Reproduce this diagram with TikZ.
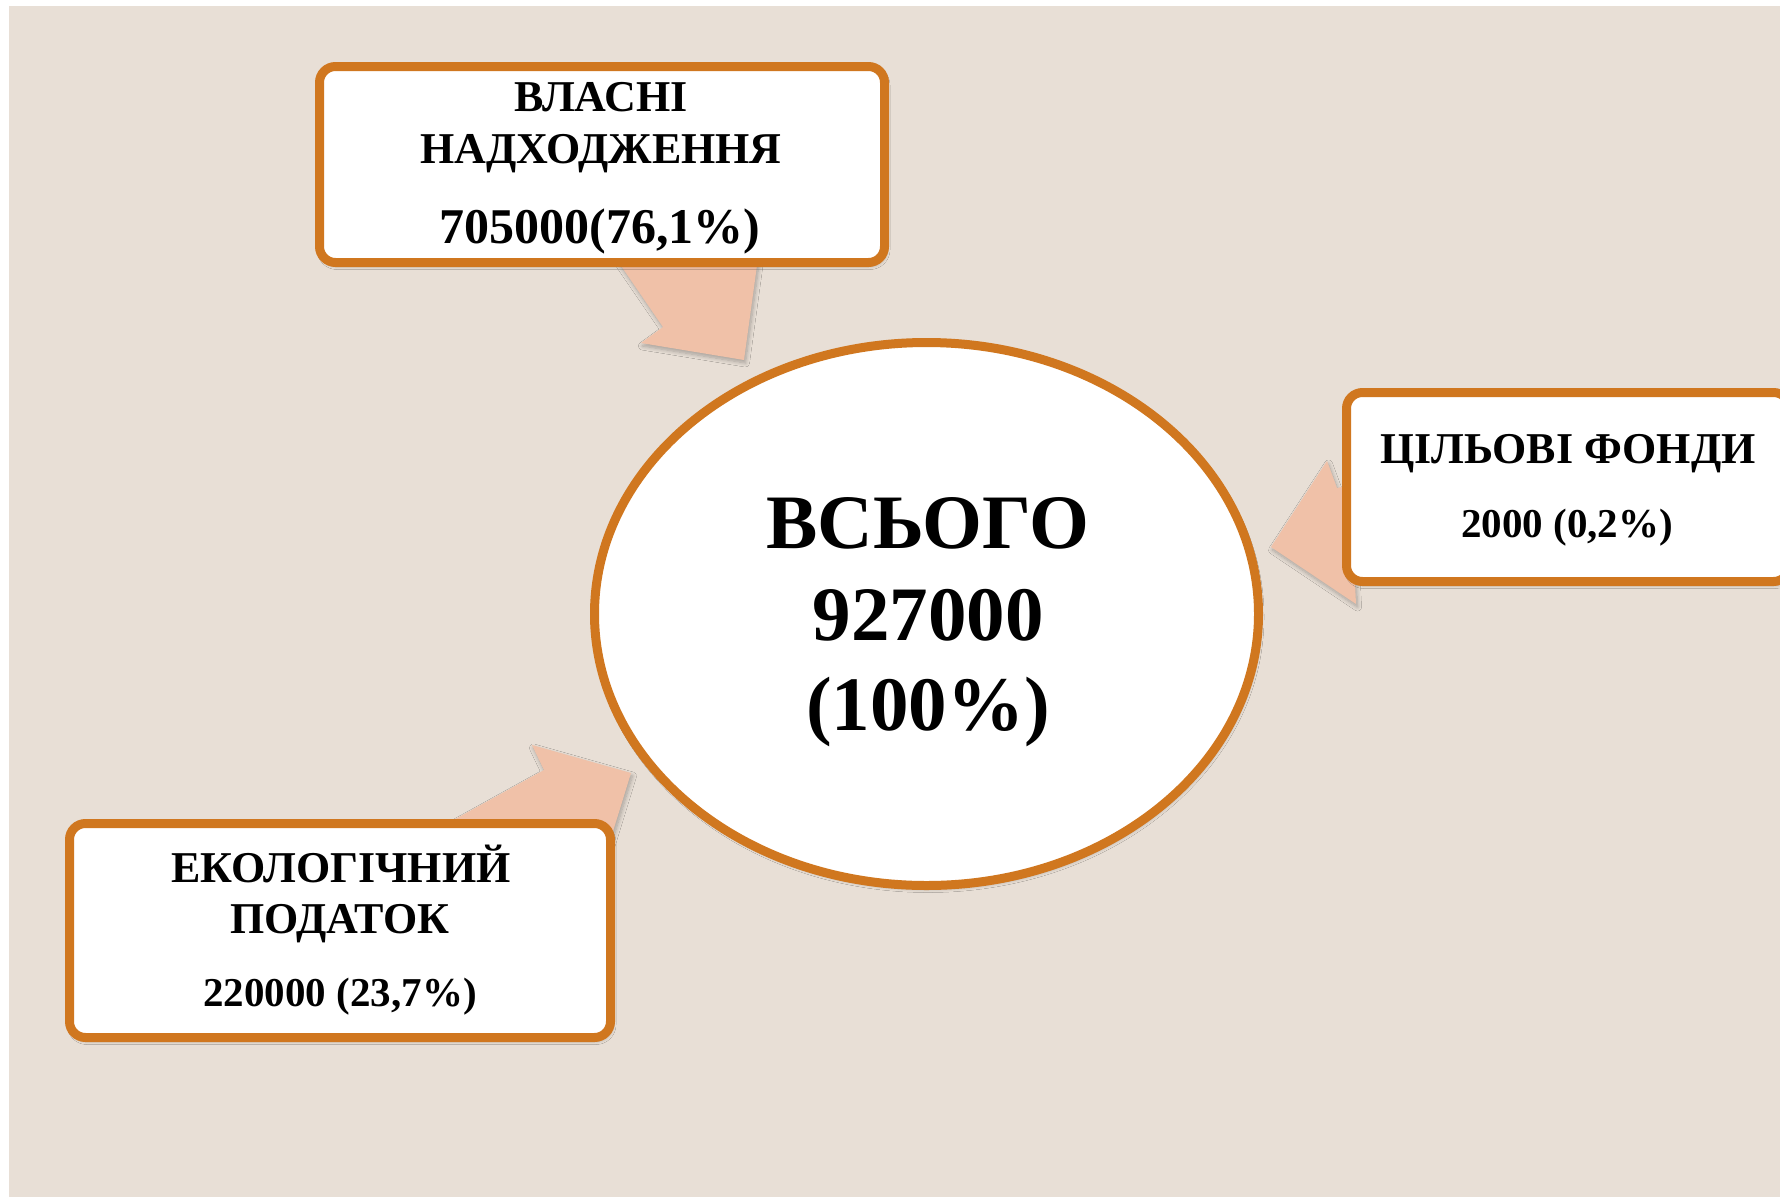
\documentclass[tikz,border=0pt]{standalone}
\usepackage{fontspec}
\setmainfont{Liberation Serif}
\usetikzlibrary{shapes.geometric,shadows.blur}
\definecolor{bgbeige}{HTML}{E8DFD6}
\definecolor{frameorange}{HTML}{D0771F}
\definecolor{arrowpeach}{HTML}{F0C1A8}
\newcommand{\fsz}[1]{\fontsize{#1}{#1}\selectfont\bfseries}
\tikzset{
  softshadow/.style={blur shadow={shadow xshift=1.5pt,shadow yshift=-3pt,shadow blur radius=4pt,shadow blur steps=8,shadow opacity=28}},
  infobox/.style={draw=frameorange,line width=9pt,fill=white,rounded corners=16pt,inner sep=0pt,softshadow},
  totalellipse/.style={ellipse,draw=frameorange,line width=9pt,fill=white,inner sep=0pt,softshadow},
  blockarrow/.style={fill=arrowpeach,softshadow},
  txt/.style={anchor=base,inner sep=0pt,text=black},
}
\begin{document}
\begin{tikzpicture}[x=1pt,y=-1pt]
\useasboundingbox (0,0) rectangle (1780,1197);
\fill[white] (0,0) rectangle (1780,1197);
\fill[bgbeige] (9,6) rectangle (1780,1197);

% arrow coordinates
\coordinate (ta1) at (576,200);
\coordinate (ta2) at (663,327);
\coordinate (ta3) at (641,343);
\coordinate (ta4) at (744,360);
\coordinate (ta5) at (766,200);

\coordinate (ra1) at (1420,471);
\coordinate (ra2) at (1337,488);
\coordinate (ra3) at (1327,461);
\coordinate (ra4) at (1271,547);
\coordinate (ra5) at (1356,604);
\coordinate (ra6) at (1354.6,575);
\coordinate (ra7) at (1420,562);

\coordinate (la1) at (345,880);
\coordinate (la2) at (544,770);
\coordinate (la3) at (532,745);
\coordinate (la4) at (631,773);
\coordinate (la5) at (598,880);

\fill[blockarrow] (ta1) -- (ta2) -- (ta3) -- (ta4) -- (ta5) -- cycle;
\fill[blockarrow] (ra1) -- (ra2) -- (ra3) -- (ra4) -- (ra5) -- (ra6) -- (ra7) -- cycle;
\fill[blockarrow] (la1) -- (la2) -- (la3) -- (la4) -- (la5) -- cycle;

% boxes
\node[infobox,minimum width=565pt,minimum height=196pt] (own) at (602,164.5) {};
\node[infobox,minimum width=443pt,minimum height=189pt] (funds) at (1568,487) {};
\node[infobox,minimum width=541pt,minimum height=214pt] (eco) at (340,930.5) {};
\node[totalellipse,minimum width=664pt,minimum height=543pt] (total) at (926.5,614) {};

% texts
\node[txt] (own1) at (601,111) {\fsz{44}ВЛАСНІ};
\node[txt] (own2) at (601,163) {\fsz{44}НАДХОДЖЕННЯ};
\node[txt] (own3) at (600,243) {\fsz{50}705000(76,1\%)};

\node[txt] (funds1) at (1568,463) {\fsz{44}ЦІЛЬОВІ ФОНДИ};
\node[txt] (funds2) at (1567,537) {\fsz{41}2000 (0,2\%)};

\node[txt] (eco1) at (341,882) {\fsz{44}ЕКОЛОГІЧНИЙ};
\node[txt] (eco2) at (340,933) {\fsz{44}ПОДАТОК};
\node[txt] (eco3) at (340,1006) {\fsz{41}220000 (23,7\%)};

\node[txt] (total1) at (928,548) {\fsz{77}ВСЬОГО};
\node[txt] (total2) at (928,640) {\fsz{77}927000};
\node[txt] (total3) at (928,730) {\fsz{77}(100\%)};
\end{tikzpicture}
\end{document}
